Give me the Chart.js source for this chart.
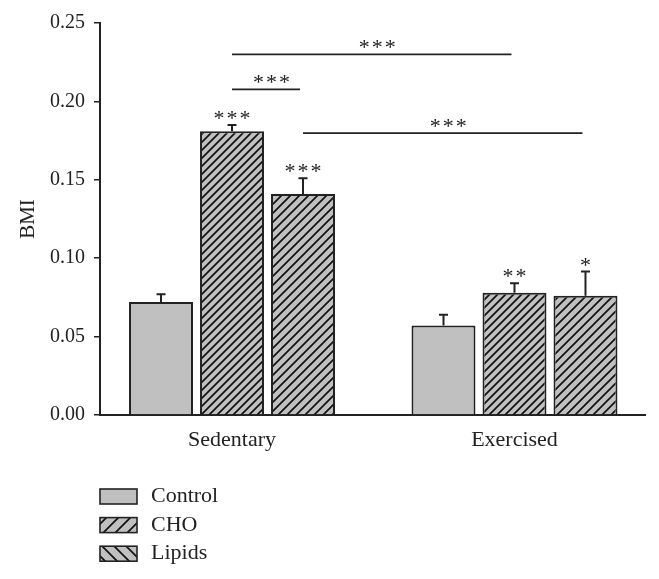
<!DOCTYPE html>
<html>
<head>
<meta charset="utf-8">
<script src="https://cdn.jsdelivr.net/npm/chart.js@4.4.1/dist/chart.umd.min.js"></script>
<style>
  html, body { margin: 0; padding: 0; background: #fff; }
  #wrap { width: 659px; height: 579px; position: relative; }
</style>
</head>
<body>
<div id="wrap"><canvas id="bmiChart"></canvas></div>
<script>
// values
const groups = ['Sedentary', 'Exercised'];
const groupPos = [1, 2];
const seriesNames = ['Control', 'CHO', 'Lipids'];
const controlBMI = [0.072, 0.057];
const choBMI = [0.181, 0.078];
const lipidsBMI = [0.141, 0.076];
const controlSEM = [0.005, 0.007];
const choSEM = [0.004, 0.006];
const lipidsSEM = [0.010, 0.0155];
const controlStars = ['', ''];
const choStars = ['***', '**'];
const lipidsStars = ['***', '*'];
const yTicks = [0, 0.05, 0.10, 0.15, 0.20, 0.25];

// comparisons: [dataset, group] -> [dataset, group] at height y
const compFrom = [[1, 0], [1, 0], [2, 0]];
const compTo = [[1, 1], [2, 0], [2, 1]];
const compY = [0.230, 0.2077, 0.1798];
const compStars = ['***', '***', '***'];

const FONT = '"Liberation Serif", "Times New Roman", serif';
const INK = '#222';
const GRAY = '#c0c0c0';

function hatch(size, dir, lw) {
    const c = document.createElement('canvas');
    c.width = c.height = size;
    const g = c.getContext('2d');
    g.fillStyle = GRAY;
    g.fillRect(0, 0, size, size);
    g.strokeStyle = '#111';
    g.lineWidth = lw;
    g.beginPath();
    if (dir > 0) {
        g.moveTo(-1, size + 1); g.lineTo(size + 1, -1);
        g.moveTo(-1, 1); g.lineTo(1, -1);
        g.moveTo(size - 1, size + 1); g.lineTo(size + 1, size - 1);
    } else {
        g.moveTo(-1, -1); g.lineTo(size + 1, size + 1);
        g.moveTo(size - 1, -1); g.lineTo(size + 1, 1);
        g.moveTo(-1, size - 1); g.lineTo(1, size + 1);
    }
    g.stroke();
    return g.createPattern(c, 'repeat');
}

const barFills = [GRAY, hatch(8, 1, 1.7), hatch(9, 1, 1.7)];
const legendFills = [GRAY, hatch(12, 1, 1.7), hatch(12, -1, 1.7)];
const sems = [controlSEM, choSEM, lipidsSEM];
const stars = [controlStars, choStars, lipidsStars];

function drawStars(ctx, str, cx, cy) {
    const n = str.length;
    ctx.save();
    ctx.font = '22px ' + FONT;
    ctx.fillStyle = INK;
    ctx.textAlign = 'center';
    ctx.textBaseline = 'alphabetic';
    for (let k = 0; k < n; k++) {
        ctx.fillText('*', cx + (k - (n - 1) / 2) * 13, cy + 10.5);
    }
    ctx.restore();
}

const annotations = {
    id: 'annotations',
    afterDatasetsDraw(chart) {
        const ctx = chart.ctx;
        const y = chart.scales.y;
        ctx.save();
        ctx.strokeStyle = INK;
        ctx.lineWidth = 2;
        // error bars + stars over each bar
        chart.data.datasets.forEach((ds, i) => {
            const meta = chart.getDatasetMeta(i);
            meta.data.forEach((bar, j) => {
                const top = y.getPixelForValue(ds.data[j].y + sems[i][j]);
                ctx.beginPath();
                ctx.moveTo(bar.x, bar.y);
                ctx.lineTo(bar.x, top);
                ctx.moveTo(bar.x - 4.5, top);
                ctx.lineTo(bar.x + 4.5, top);
                ctx.stroke();
                if (stars[i][j]) drawStars(ctx, stars[i][j], bar.x, top - 10.5);
            });
        });
        // comparison lines
        compY.forEach((v, k) => {
            const a = chart.getDatasetMeta(compFrom[k][0]).data[compFrom[k][1]];
            const b = chart.getDatasetMeta(compTo[k][0]).data[compTo[k][1]];
            const py = y.getPixelForValue(v);
            ctx.beginPath();
            ctx.lineWidth = 1.8;
            ctx.moveTo(a.x, py);
            ctx.lineTo(b.x - 3, py);
            ctx.stroke();
            drawStars(ctx, compStars[k], (a.x + b.x) / 2 + 4, py - 11);
        });
        ctx.restore();
    },
    afterDraw(chart) {
        // vertical legend under the plot
        const ctx = chart.ctx;
        ctx.save();
        chart.data.datasets.forEach((ds, i) => {
            const by = 489 + i * 28.6;
            ctx.fillStyle = legendFills[i];
            ctx.fillRect(100, by, 37, 15);
            ctx.strokeStyle = INK;
            ctx.lineWidth = 1.6;
            ctx.strokeRect(100, by, 37, 15);
            ctx.fillStyle = INK;
            ctx.font = '22px ' + FONT;
            ctx.textAlign = 'left';
            ctx.textBaseline = 'middle';
            ctx.fillText(ds.label, 151, by + 7.5);
        });
        ctx.restore();
    }
};

const seriesValues = [controlBMI, choBMI, lipidsBMI];

new Chart(document.getElementById('bmiChart'), {
    type: 'bar',
    data: {
        datasets: seriesNames.map((name, i) => ({
            label: name,
            data: groupPos.map((x, j) => ({ x: x, y: seriesValues[i][j] })),
            backgroundColor: barFills[i],
            borderColor: INK,
            borderWidth: 2,
            borderSkipped: 'bottom',
            categoryPercentage: 0.754,
            barPercentage: 0.901
        }))
    },
    options: {
        responsive: true,
        maintainAspectRatio: false,
        animation: false,
        layout: { padding: { left: 0, top: 23, right: 14, bottom: 0 } },
        plugins: {
            legend: { display: false },
            tooltip: { enabled: false }
        },
        scales: {
            x: {
                type: 'linear',
                min: 0.5327,
                max: 2.462,
                offset: false,
                z: 1,
                grid: { display: false, offset: false },
                border: { display: true, color: INK, width: 2 },
                afterBuildTicks: (scale) => { scale.ticks = groupPos.map(v => ({ value: v })); },
                afterFit: (scale) => { scale.height = 164; },
                ticks: {
                    color: INK,
                    font: { family: FONT, size: 22 },
                    padding: 4,
                    autoSkip: false,
                    maxRotation: 0,
                    callback: (v) => groups[groupPos.indexOf(v)]
                }
            },
            y: {
                min: 0,
                max: 0.25,
                afterFit: (scale) => { scale.width = 100; },
                afterBuildTicks: (scale) => { scale.ticks = yTicks.map(v => ({ value: v })); },
                grid: { drawOnChartArea: false, drawTicks: true, tickLength: 6, color: INK, lineWidth: 1.5 },
                border: { display: true, color: INK, width: 2 },
                ticks: {
                    color: INK,
                    font: { family: FONT, size: 20 },
                    padding: 9,
                    callback: (v) => v.toFixed(2)
                },
                title: {
                    display: true,
                    text: 'BMI',
                    color: INK,
                    font: { family: FONT, size: 21 },
                    padding: { top: 16, bottom: 0 }
                }
            }
        }
    },
    plugins: [annotations]
});
</script>
</body>
</html>
